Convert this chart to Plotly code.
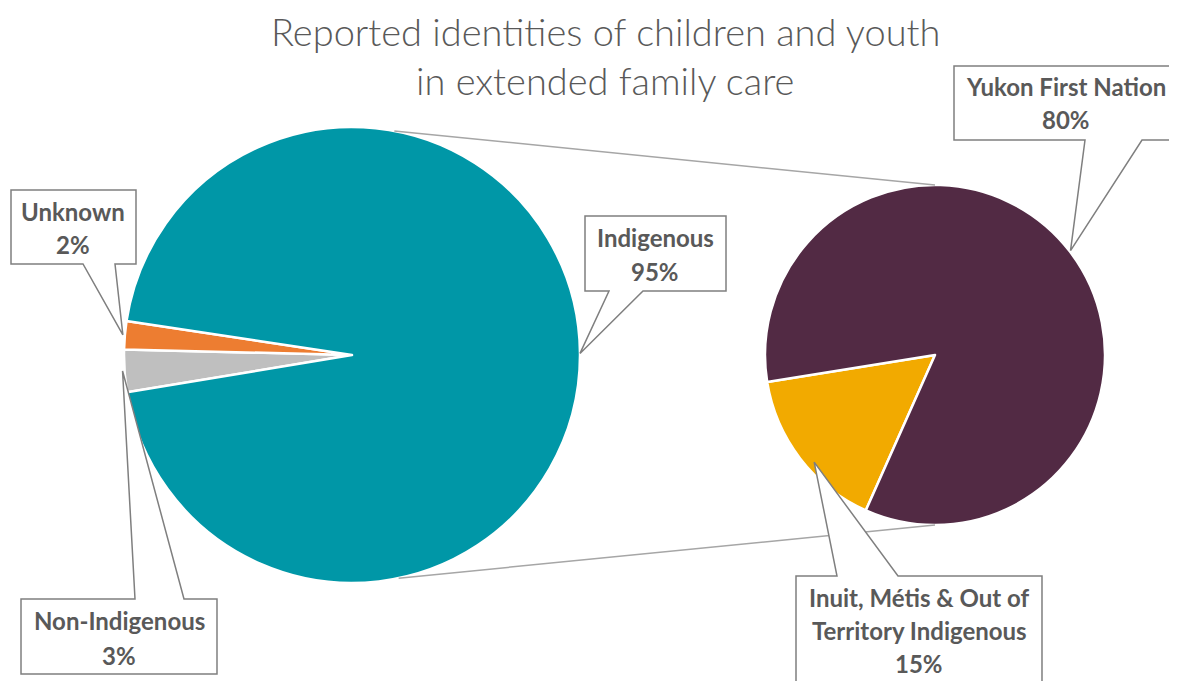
import math
import plotly.graph_objects as go

# ---------------- data ----------------
main_labels = ["Non-Indigenous", "Unknown", "Indigenous"]
main_values = [3, 2, 95]
main_colors = ["#BFBFBF", "#ED7D31", "#0097A7"]

sub_labels = ["Inuit, Métis & Out of Territory Indigenous", "Yukon First Nation"]
sub_values = [15, 80]
sub_colors = ["#F2AA00", "#522A44"]

title_lines = ["Reported identities of children and youth", "in extended family care"]

# ---------------- layout geometry (pixels in the screenshot) ----------------
W, H = 1177, 681
OFF = 8  # page body margin
C1, R1 = (352, 355), 228
C2, R2 = (935, 355), 170
ROT1, ROT2 = 260.6, 204

TEXT = "#595959"
BORDER = "#7F7F7F"
FONT = "Lato, 'Open Sans', sans-serif"


def px(x):
    return (x - OFF) / W


def py(y):
    return 1 - (y - OFF) / H


def domain(c, r):
    return dict(x=[px(c[0] - r), px(c[0] + r)], y=[py(c[1] + r), py(c[1] - r)])


def point_on(c, r, ang):
    a = math.radians(ang)
    return (c[0] + r * math.sin(a), c[1] - r * math.cos(a))


def mid_angles(values, rot):
    tot = sum(values)
    out, cur = [], rot
    for v in values:
        span = v / tot * 360
        out.append(cur + span / 2)
        cur += span
    return out


fig = go.Figure()
fig.add_trace(go.Pie(labels=main_labels, values=main_values, sort=False,
                     direction="clockwise", rotation=ROT1, textinfo="none",
                     marker=dict(colors=main_colors, line=dict(color="white", width=2.5)),
                     domain=domain(C1, R1), showlegend=False))
fig.add_trace(go.Pie(labels=sub_labels, values=sub_values, sort=False,
                     direction="clockwise", rotation=ROT2, textinfo="none",
                     marker=dict(colors=sub_colors, line=dict(color="white", width=2.5)),
                     domain=domain(C2, R2), showlegend=False))

shapes = []
# connector lines between the pies
for a1, a2 in [(10.7, 0), (168.2, 180)]:
    p1 = point_on(C1, R1, a1)
    p2 = point_on(C2, R2, a2)
    shapes.append(dict(type="line", xref="paper", yref="paper",
                       x0=px(p1[0]), y0=py(p1[1]), x1=px(p2[0]), y1=py(p2[1]),
                       line=dict(color="#A6A6A6", width=1.5), layer="above"))

m1 = mid_angles(main_values, ROT1)
m2 = mid_angles(sub_values, ROT2)
tot_main = sum(main_values)

# callouts: box (l, t, r, b), pointer base (b1, b2), side, tip, text center x, lines (text, y center)
callouts = [
    dict(box=(11, 190, 136, 264), base=(83, 115), side="bottom",
         tip=point_on(C1, R1 + 2, m1[1]), cx=73,
         lines=[(main_labels[1], 211), (f"{round(main_values[1] / tot_main * 100)}%", 244)]),
    dict(box=(21, 599, 217, 674), base=(135, 184), side="top",
         tip=point_on(C1, R1 + 2, m1[0]), cx=119,
         lines=[(main_labels[0], 620), (f"{round(main_values[0] / tot_main * 100)}%", 655)]),
    dict(box=(585, 216, 726, 291), base=(609, 643), side="bottom",
         tip=point_on(C1, R1, m1[2]), cx=655,
         lines=[(main_labels[2], 238), (f"{round(main_values[2] / tot_main * 100)}%", 271)]),
    dict(box=(954, 66, 1200, 140), base=(1085, 1142), side="bottom",
         tip=point_on(C2, R2 + 1, m2[1]), cx=1066,
         lines=[(sub_labels[1], 86), (f"{round(sub_values[1] / tot_main * 100)}%", 120)]),
    dict(box=(796, 576, 1042, 720), base=(837, 898), side="top",
         tip=point_on(C2, R2 * 0.95, m2[0] - 4), cx=919,
         lines=[("Inuit, Métis & Out of", 597), ("Territory Indigenous", 630),
                (f"{round(sub_values[0] / tot_main * 100)}%", 663)]),
]

annotations = []
for c in callouts:
    l, t, r, b = c["box"]
    b1, b2 = c["base"]
    tx, ty = c["tip"]
    if c["side"] == "bottom":
        pts = [(l, t), (r, t), (r, b), (b2, b), (tx, ty), (b1, b), (l, b)]
    else:
        pts = [(l, t), (b1, t), (tx, ty), (b2, t), (r, t), (r, b), (l, b)]
    path = "M " + " L ".join(f"{px(x):.5f},{py(y):.5f}" for x, y in pts) + " Z"
    shapes.append(dict(type="path", xref="paper", yref="paper", path=path,
                       fillcolor="white", line=dict(color=BORDER, width=1.5), layer="above"))
    for txt, yy in c["lines"]:
        annotations.append(dict(text=txt, x=px(c["cx"]), y=py(yy), xref="paper", yref="paper",
                                showarrow=False, xanchor="center", yanchor="middle",
                                font=dict(family=FONT, size=24, color=TEXT, weight="bold")))

for txt, yy in zip(title_lines, [31, 80]):
    annotations.append(dict(text=txt, x=px(605), y=py(yy), xref="paper", yref="paper",
                            showarrow=False, xanchor="center", yanchor="middle",
                            font=dict(family=FONT, size=38, color=TEXT, weight=300)))

fig.update_layout(width=W, height=H, margin=dict(l=0, r=0, t=0, b=0),
                  paper_bgcolor="white", plot_bgcolor="white",
                  shapes=shapes, annotations=annotations)

fig.write_html("out.html")
